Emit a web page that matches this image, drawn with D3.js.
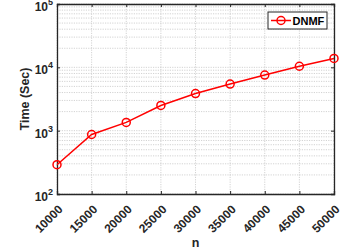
<!DOCTYPE html>
<html><head><meta charset="utf-8">
<script src="https://cdn.jsdelivr.net/npm/d3@7"></script>
<style>body{margin:0;background:#fff}svg{display:block;font-family:"Liberation Sans",Arial,sans-serif;font-weight:bold}</style>
</head><body><svg id="c" width="345" height="250"></svg>
<script>
const nValues = [10000,15000,20000,25000,30000,35000,40000,45000,50000];
const timeDNMF = [290,870,1350,2500,3850,5450,7550,10400,13800];
const xTicks = [10000,15000,20000,25000,30000,35000,40000,45000,50000];
const yExponents = [2,3,4,5];
const seriesName = "DNMF";

const svg = d3.select("#c");
const L=57, R=334, T=4, B=194;
const x = d3.scaleLinear().domain([10000,50000]).range([L,R]);
const y = d3.scaleLog().domain([100,100000]).range([B,T]);

// grid
const g = svg.append("g");
const minor = [];
for (let e=2;e<5;e++) for (let m=1;m<10;m++) minor.push(m*Math.pow(10,e));
minor.push(100000);
g.selectAll(".gy").data(minor).join("line")
 .attr("x1",L).attr("x2",R).attr("y1",d=>y(d)).attr("y2",d=>y(d))
 .attr("stroke","#c0c0c0").attr("stroke-width",0.7).attr("stroke-dasharray","1.2,1.2");
g.selectAll(".gx").data(xTicks).join("line")
 .attr("x1",d=>x(d)).attr("x2",d=>x(d)).attr("y1",T).attr("y2",B)
 .attr("stroke","#c0c0c0").attr("stroke-width",0.7).attr("stroke-dasharray","1.2,1.2");

// axes
const xb = d3.axisBottom(x).tickValues(xTicks).tickSize(-3).tickFormat(d=>d);
const xt = d3.axisTop(x).tickValues(xTicks).tickSize(-3).tickFormat("");
const yl = d3.axisLeft(y).tickValues(yExponents.map(e=>Math.pow(10,e))).tickSize(-3).tickFormat("");
const yr = d3.axisRight(y).tickValues(yExponents.map(e=>Math.pow(10,e))).tickSize(-3).tickFormat("");
const ax = svg.append("g").attr("transform",`translate(0,${B})`).call(xb);
svg.append("g").attr("transform",`translate(0,${T})`).call(xt);
svg.append("g").attr("transform",`translate(${L},0)`).call(yl);
svg.append("g").attr("transform",`translate(${R},0)`).call(yr);
svg.selectAll(".domain").attr("stroke","#262626").attr("stroke-width",1.3);
svg.selectAll(".tick line").attr("stroke","#262626").attr("stroke-width",1);
ax.selectAll(".tick text")
 .attr("font-size",12).attr("font-family","Liberation Sans, Arial").attr("font-weight","bold").attr("fill","#262626")
 .attr("text-anchor","end").attr("dy",0).attr("y",0)
 .attr("transform","translate(6,16) rotate(-45)");

// y tick labels 10^e
const yt = svg.append("g");
yExponents.forEach(e=>{
  const t = yt.append("text").attr("x",L-4).attr("y",y(Math.pow(10,e))+7)
   .attr("text-anchor","end").attr("font-size",12).attr("fill","#262626");
  t.append("tspan").text("10");
  t.append("tspan").attr("dy",-6).attr("font-size",9).text(e);
});

// labels
svg.append("text").attr("transform",`translate(29,${(T+B)/2}) rotate(-90)`)
 .attr("text-anchor","middle").attr("font-size",12.5).attr("fill","#262626").text("Time (Sec)");
svg.append("text").attr("x",(L+R)/2).attr("y",247).attr("text-anchor","middle")
 .attr("font-size",12.5).attr("fill","#262626").text("n");

// line
const line = d3.line().x((d,i)=>x(nValues[i])).y(d=>y(d));
svg.append("path").datum(timeDNMF).attr("d",line).attr("fill","none").attr("stroke","#ff0000").attr("stroke-width",1.5);
svg.selectAll(".pt").data(timeDNMF).join("circle")
 .attr("cx",(d,i)=>x(nValues[i])).attr("cy",d=>y(d)).attr("r",4)
 .attr("fill","none").attr("stroke","#ff0000").attr("stroke-width",1.5);

// legend
const lg = svg.append("g");
lg.append("rect").attr("x",268).attr("y",12).attr("width",59).attr("height",17)
 .attr("fill","#fff").attr("stroke","#262626").attr("stroke-width",1);
lg.append("line").attr("x1",271).attr("x2",291).attr("y1",20.5).attr("y2",20.5).attr("stroke","#ff0000").attr("stroke-width",1.5);
lg.append("circle").attr("cx",281).attr("cy",20.5).attr("r",4).attr("fill","none").attr("stroke","#ff0000").attr("stroke-width",1.5);
lg.append("text").attr("x",292.5).attr("y",24.5).attr("font-size",11).attr("fill","#000").text(seriesName);
</script></body></html>
